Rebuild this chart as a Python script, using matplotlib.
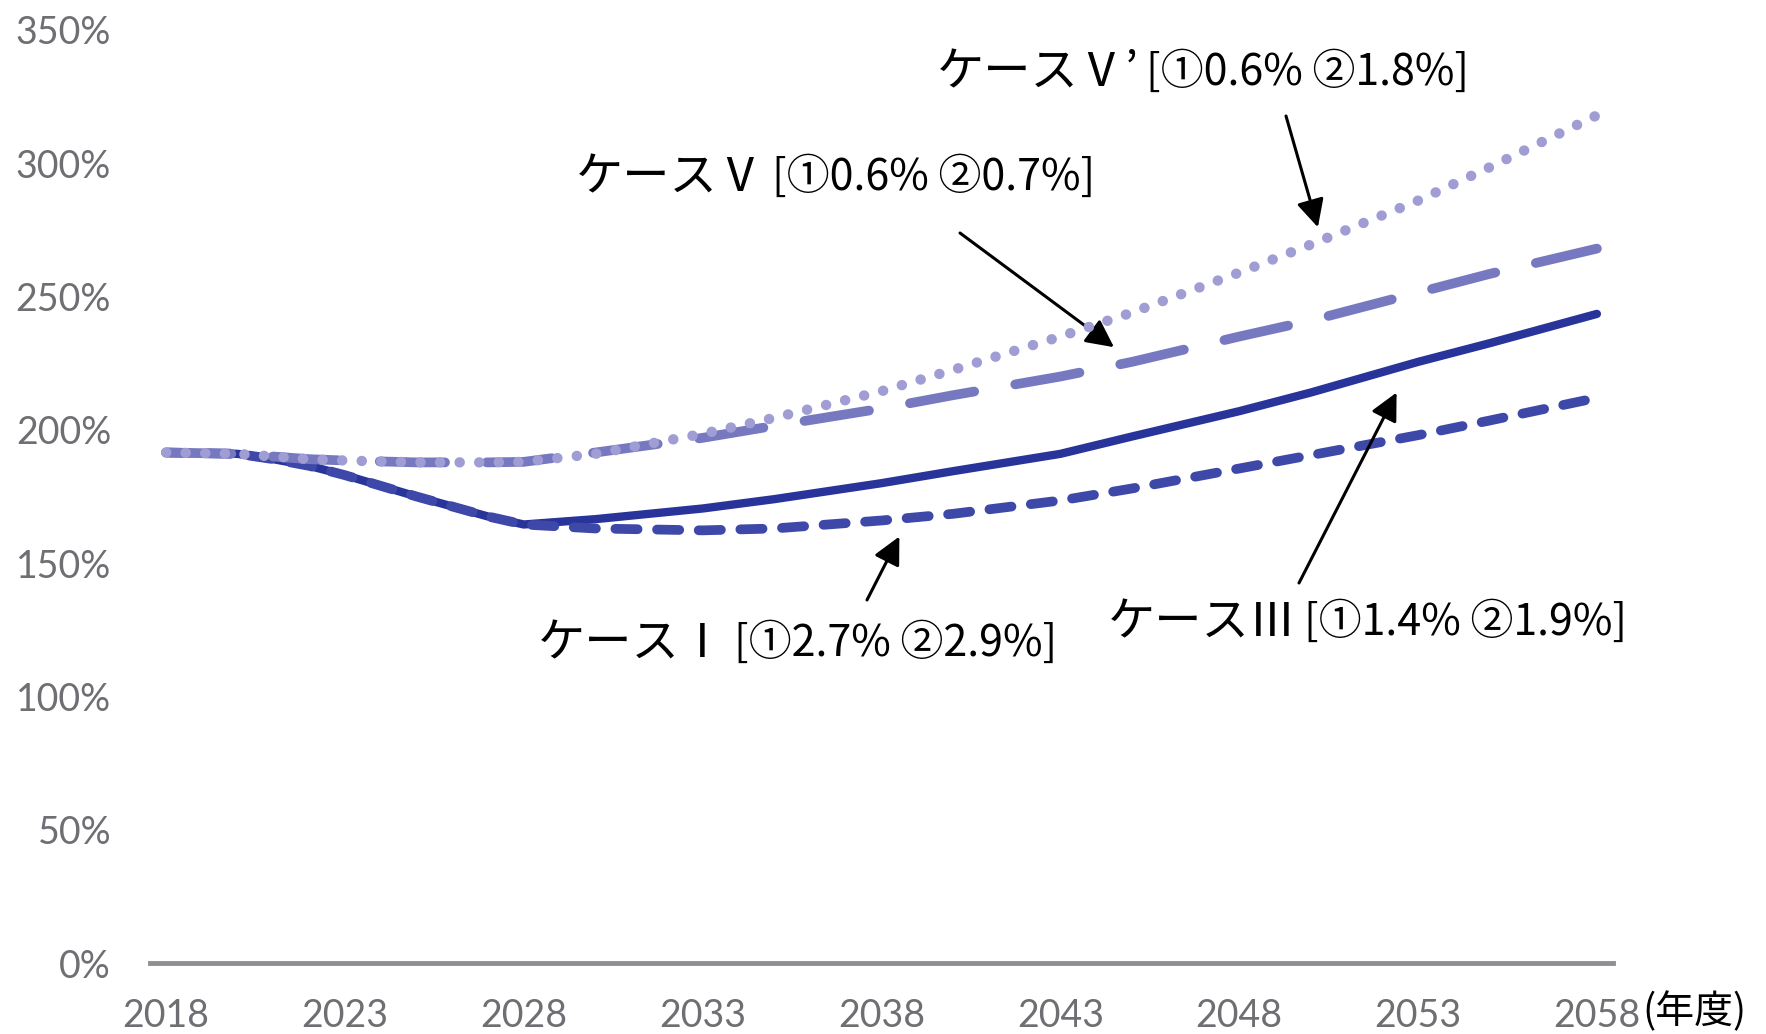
import matplotlib
matplotlib.use("Agg")
import matplotlib.pyplot as plt
from matplotlib.ticker import FuncFormatter

plt.rcParams['lines.scale_dashes'] = False

# fiscal years and projected ratios (%) for each case
years = [2018, 2020, 2021, 2022, 2023, 2025, 2027, 2028, 2030, 2033, 2035,
         2038, 2040, 2043, 2045, 2048, 2050, 2053, 2055, 2058]
case_3 = [191.5, 191.0, 189.0, 186.5, 183.0, 175.0, 167.5, 164.5, 166.5, 170.5, 174.0,
          180.0, 184.5, 191.0, 197.5, 207.0, 214.0, 225.5, 232.5, 243.5]
case_1 = [191.5, 191.0, 189.0, 186.5, 183.0, 175.0, 167.5, 164.5, 163.0, 162.3, 163.0,
          166.0, 168.5, 173.5, 178.0, 185.5, 190.5, 198.0, 203.5, 212.0]
case_5 = [191.5, 191.0, 190.0, 189.0, 188.5, 187.8, 187.8, 188.0, 191.5, 197.0, 201.5,
          208.0, 213.0, 220.0, 225.5, 235.0, 241.0, 251.5, 258.5, 268.0]
case_5d = [191.5, 191.0, 190.0, 189.0, 188.5, 187.8, 187.8, 188.0, 191.0, 198.5, 204.5,
           214.5, 222.5, 235.0, 244.0, 259.0, 269.5, 286.0, 298.5, 318.0]

x_ticks = list(range(2018, 2059, 5))
y_ticks = list(range(0, 351, 50))

jp = ['Noto Sans CJK JP', 'DejaVu Sans']

fig = plt.figure(figsize=(17.66, 10.34), dpi=100)
ax = fig.add_axes([150 / 1766, 1 - 963 / 1034, 1463 / 1766, 933 / 1034])

ax.plot(years, case_3, color='#29349a', lw=6, solid_capstyle='round', zorder=3)
ax.plot(years, case_1, color='#3e48a8', lw=7, dashes=(16, 14),
        dash_capstyle='round', zorder=3)
ax.plot(years, case_5, color='#7779c0', lw=7, dashes=(47, 30),
        dash_capstyle='round', zorder=4)
ax.plot(years, case_5d, color='#9f9dd4', lw=7.5, dashes=(0.1, 14),
        dash_capstyle='round', zorder=5)

ax.set_xlim(2017.55, 2058.45)
ax.set_ylim(0, 350)
ax.set_xticks(x_ticks)
ax.set_yticks(y_ticks)
ax.yaxis.set_major_formatter(FuncFormatter(lambda v, p: f"{v:.0f}%"))

for s in ['top', 'right', 'left']:
    ax.spines[s].set_visible(False)
ax.spines['bottom'].set_color('#8e8e93')
ax.spines['bottom'].set_linewidth(3.5)
ax.tick_params(axis='both', length=0, labelsize=27, labelcolor='#6e6e73')
ax.tick_params(axis='x', pad=25)
ax.tick_params(axis='y', pad=28)
for lab in ax.get_xticklabels() + ax.get_yticklabels():
    lab.set_family('Lato')

fig.text(1642 / 1766, 22 / 1034, '(年度)', family=jp, fontsize=28,
         ha='left', va='center', color='black')


def case_label(x_split, y, head, rates):
    fig.text((x_split - 3) / 1766, y / 1034, head, family=jp, fontsize=34,
             ha='right', va='center', color='black')
    fig.text((x_split + 4) / 1766, y / 1034, rates, family=jp, fontsize=31,
             ha='left', va='center', color='black')


case_label(1142, 961, 'ケースⅤ’', '[①0.6% ②1.8%]')
case_label(768, 856, 'ケースⅤ', '[①0.6% ②0.7%]')
case_label(730, 390, 'ケースⅠ', '[①2.7% ②2.9%]')
case_label(1300, 411, 'ケースⅢ', '[①1.4% ②1.9%]')

arrow = dict(arrowstyle='-|>', color='black', lw=2.2, mutation_scale=42,
             shrinkA=0, shrinkB=0)
ax.annotate('', xy=(2050.2, 276), xycoords='data', xytext=(1286, 918),
            textcoords='figure pixels', arrowprops=arrow)
ax.annotate('', xy=(2044.5, 231), xycoords='data', xytext=(960, 801),
            textcoords='figure pixels', arrowprops=arrow)
ax.annotate('', xy=(2038.5, 160), xycoords='data', xytext=(867, 434),
            textcoords='figure pixels', arrowprops=arrow)
ax.annotate('', xy=(2052.4, 214), xycoords='data', xytext=(1299, 451),
            textcoords='figure pixels', arrowprops=arrow)

fig.savefig('out.png', dpi=100)
